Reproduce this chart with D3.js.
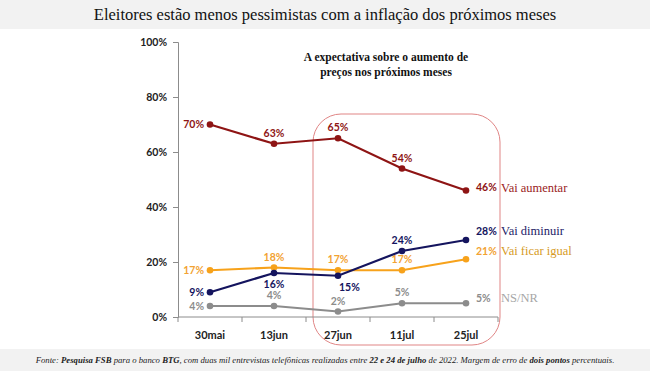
<!DOCTYPE html>
<html>
<head>
<meta charset="utf-8">
<script src="https://cdn.jsdelivr.net/npm/d3@7"></script>
<style>
  body { margin: 0; background: #fff; }
  svg { display: block; }
  .serif { font-family: "Liberation Serif", "Times New Roman", Times, "DejaVu Serif", serif; }
  .sans { font-family: Lato, "Open Sans", sans-serif; }
</style>
</head>
<body>
<div id="chart"></div>
<script>
var months = ["30mai", "13jun", "27jun", "11jul", "25jul"];
var aumentar = [70, 63, 65, 54, 46];
var diminuir = [9, 16, 15, 24, 28];
var ficarIgual = [17, 18, 17, 17, 21];
var nsnr = [4, 4, 2, 5, 5];
var yTicks = [0, 20, 40, 60, 80, 100];

// label placement per point: l = left, a = above, b = below, br = below right, r = right
var series = [
  {name: "Vai aumentar", values: aumentar, color: "#8e1414", labelColor: "#8e1414", nameColor: "#9a1c1c", pos: ["l", "a", "a", "a", "r"], lift: 3},
  {name: "Vai ficar igual", values: ficarIgual, color: "#f7a21b", labelColor: "#f2a232", nameColor: "#d69a1e", pos: ["l", "a", "a", "a", "r"], lift: 8},
  {name: "Vai diminuir", values: diminuir, color: "#14145e", labelColor: "#14145e", nameColor: "#1c1c66", pos: ["l", "b", "br", "a", "r"], lift: 9},
  {name: "NS/NR", values: nsnr, color: "#8c8c8c", labelColor: "#8c8c8c", nameColor: "#a6a6a6", pos: ["l", "a", "a", "a", "r"], lift: 5}
];

var W = 650, H = 371;
var margin = {top: 42, left: 178, bottom: 54};
var plotW = 320, plotH = H - margin.top - margin.bottom;

var svg = d3.select("#chart").append("svg")
  .attr("width", W).attr("height", H);

// title bar
svg.append("rect").attr("x", 0).attr("y", 0).attr("width", W).attr("height", 29).attr("fill", "#f2f2f2");
svg.append("text")
  .attr("class", "serif")
  .attr("x", W / 2).attr("y", 20)
  .attr("text-anchor", "middle")
  .style("font-size", "16.5px")
  .attr("fill", "#111")
  .text("Eleitores estão menos pessimistas com a inflação dos próximos meses");

// footer bar
svg.append("rect").attr("x", 0).attr("y", 349).attr("width", W).attr("height", 22).attr("fill", "#f2f2f2");
var foot = svg.append("text")
  .attr("class", "serif")
  .attr("x", W / 2).attr("y", 363)
  .attr("text-anchor", "middle")
  .style("font-style", "italic")
  .style("font-size", "8.7px")
  .attr("fill", "#222");
[["Fonte: ", 0], ["Pesquisa FSB", 1], [" para o banco ", 0], ["BTG", 1],
 [", com duas mil entrevistas telefônicas realizadas entre ", 0], ["22 e 24 de julho", 1],
 [" de 2022. Margem de erro de ", 0], ["dois pontos", 1], [" percentuais.", 0]].forEach(function(p) {
  foot.append("tspan").style("font-weight", p[1] ? "bold" : "normal").text(p[0]);
});

var g = svg.append("g").attr("transform", "translate(" + margin.left + "," + margin.top + ")");

var x = d3.scaleBand().domain(months).range([0, plotW]);
var y = d3.scaleLinear().domain([0, 100]).range([plotH, 0]);
var cx = function(i) { return x(months[i]) + x.bandwidth() / 2; };

// highlight box round the last three surveys
var boxLeft = cx(2) - 25, boxTop = 72;
g.append("rect")
  .attr("x", boxLeft).attr("y", boxTop)
  .attr("width", plotW + 2 - boxLeft).attr("height", 303 - boxTop)
  .attr("rx", 28).attr("ry", 28)
  .attr("fill", "none").attr("stroke", "#e08585").attr("stroke-width", 1);

// y axis
var yAxis = g.append("g")
  .call(d3.axisLeft(y).tickValues(yTicks).tickSize(5).tickPadding(6).tickFormat(function(d) { return d + "%"; }));
yAxis.select(".domain").attr("stroke", "#8c8c8c");
yAxis.selectAll(".tick line").attr("stroke", "#8c8c8c");
yAxis.selectAll("text")
  .attr("class", "sans")
  .style("font-weight", "bold").style("font-size", "10.5px").attr("fill", "#222");

// x axis
var xAxisG = g.append("g").attr("transform", "translate(0," + plotH + ")");
xAxisG.append("line").attr("x1", 0).attr("x2", plotW).attr("stroke", "#8c8c8c");
xAxisG.selectAll(".xt").data(d3.range(months.length + 1)).enter().append("line")
  .attr("x1", function(i) { return i * x.bandwidth(); })
  .attr("x2", function(i) { return i * x.bandwidth(); })
  .attr("y1", 0).attr("y2", 5).attr("stroke", "#8c8c8c");
xAxisG.selectAll(".xl").data(months).enter().append("text")
  .attr("class", "sans")
  .attr("x", function(d) { return x(d) + x.bandwidth() / 2; })
  .attr("y", 22)
  .attr("text-anchor", "middle")
  .style("font-weight", "bold").style("font-size", "11px").attr("fill", "#222")
  .text(function(d) { return d; });

// subtitle
var sub = g.append("text")
  .attr("class", "serif")
  .attr("x", 208).attr("y", 19)
  .attr("text-anchor", "middle")
  .style("font-weight", "bold").style("font-size", "11.5px").attr("fill", "#111");
sub.append("tspan").attr("x", 208).text("A expectativa sobre o aumento de");
sub.append("tspan").attr("x", 208).attr("dy", 15).text("preços nos próximos meses");

var line = d3.line().x(function(d, i) { return cx(i); }).y(function(d) { return y(d); });

series.forEach(function(s) {
  g.append("path").datum(s.values)
    .attr("d", line).attr("fill", "none")
    .attr("stroke", s.color).attr("stroke-width", 2.2);
  g.selectAll(null).data(s.values).enter().append("circle")
    .attr("cx", function(d, i) { return cx(i); })
    .attr("cy", function(d) { return y(d); })
    .attr("r", 3.3).attr("fill", s.color);
  g.selectAll(null).data(s.values).enter().append("text")
    .attr("class", "sans")
    .attr("x", function(d, i) {
      var p = s.pos[i];
      if (p == "l") return cx(i) - 6;
      if (p == "r") return cx(i) + 10;
      if (p == "br") return cx(i) + 1;
      return cx(i);
    })
    .attr("y", function(d, i) {
      var p = s.pos[i];
      if (p == "a") return y(d) - 7;
      if (p == "b" || p == "br") return y(d) + 15;
      if (p == "r") return y(d) + 3.5 - s.lift;
      return y(d) + 3.5;
    })
    .attr("text-anchor", function(d, i) {
      var p = s.pos[i];
      if (p == "l") return "end";
      if (p == "r" || p == "br") return "start";
      return "middle";
    })
    .style("font-weight", "bold").style("font-size", "10.5px")
    .attr("fill", s.labelColor)
    .text(function(d) { return d + "%"; });
  var last = s.values[s.values.length - 1];
  g.append("text")
    .attr("class", "serif")
    .attr("x", cx(4) + 35).attr("y", y(last) + 4 - s.lift)
    .style("font-size", "12.5px").attr("fill", s.nameColor)
    .text(s.name);
});
</script>
</body>
</html>
